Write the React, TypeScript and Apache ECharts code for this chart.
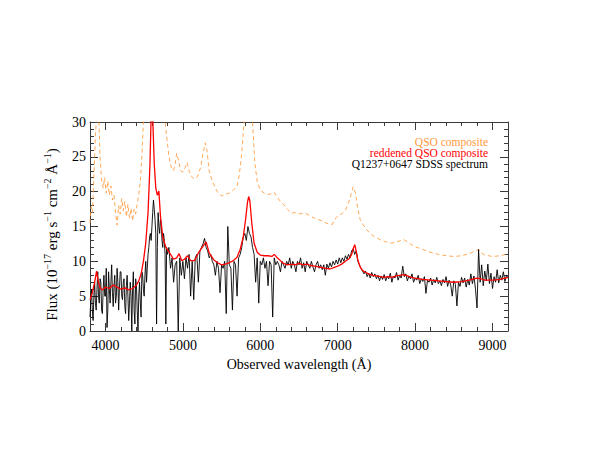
import React, { useEffect, useRef } from "react";
import * as echarts from "echarts";

// ---- data ----
const xMajorTicks = [4000, 5000, 6000, 7000, 8000, 9000];
const yTicks = [0, 5, 10, 15, 20, 25, 30];

// Q1237+0647 SDSS spectrum, blue part: every 10 Å from 3800 Å
const spectrumBlueStart = 3800;
const spectrumBlueStep = 10;
const spectrumBlueFlux = [
  2, 4.5, 6, 3, 1.5, 5, 7, 4, 3, 6,
  8.5, 5, 4, 7.5, 7, 3, 2.5, 6, 8, 5,
  5, 9, 0.5, 3, 8.5, 6, 4, 7, 9.5, 5.5,
  3.5, 6.5, 8, 4, 5, 9, 7, 3, 6, 8.5,
  8.5, 5, 4.5, 7, 7.5, 3.5, 2.5, 6.5, 8, 5,
  1.5, 4, 7, 5, 0, 6, 8.5, 3, 1, 7.5,
  6.5, 3, 0, 5, 7, 4, 2, 8.5, 8, 6,
  5, 8, 10, 7, 9, 11, 12, 13.5, 14, 13,
  15, 17, 18.8, 17.5, 16, 14, 1, 12, 17, 15,
  14, 16, 15.5, 13, 12, 14, 13, 11, 1, 12,
];

// Q1237+0647 SDSS spectrum, red part: every 20 Å from 4800 Å
const spectrumRedStart = 4800;
const spectrumRedStep = 20;
const spectrumRedFlux = [
  11, 12, 9, 10.5, 7,
  9.5, 10, 0, 10.5, 8,
  10, 7.5, 10.5, 9, 11,
  5, 10, 4.5, 10.5, 11,
  7, 11.5, 12, 12.5, 13.3,
  12, 11.5, 10.5, 11, 10,
  9.5, 8, 10, 9, 5.5,
  9.5, 9, 10, 2.5, 15,
  9.5, 9, 3, 10, 9.5,
  5, 10.5, 11, 12, 13.5,
  14, 13, 15, 14, 13.5,
  12, 11, 7, 10.5, 4,
  10, 9.5, 10.5, 9, 10,
  6.5, 10, 9.5, 2, 10.5,
  9.5, 10, 9.5, 8.5, 10,
  9.5, 9, 10, 9.5, 10.5,
  9, 10, 9.5, 8.5, 10,
  9.5, 10.5, 9, 9.8, 8.5,
  10, 9.5, 9, 10, 9.2,
  8.5, 9.5, 10, 9, 9.5,
  8.8, 9.5, 8, 9.6, 9,
  9.8, 9.2, 10, 9.5, 10.2,
  9.6, 10.5, 9.8, 10.5, 10,
  10.8, 10.3, 11, 10.5, 11.5,
  11.8, 11, 11.5, 10, 9.5,
  9, 8.6, 8.2, 8.6, 7.8,
  8.3, 7.6, 8.4, 7.8, 8.2,
  7.5, 8, 7.2, 7.9, 7.4,
  8.1, 7.2, 7.8, 7.5, 8.3,
  7, 7.9, 7.6, 8.4, 7.3,
  8, 7.6, 9.3, 7.8, 8.2,
  7.2, 7.9, 7.5, 8.2, 7,
  7.6, 7.3, 8, 6.8, 7.5,
  7.1, 7.8, 5.4, 7.3, 7,
  7.6, 6.6, 7.4, 6.9, 7.7,
  6.8, 7.2, 6.5, 7.4, 6.9,
  7.8, 6.4, 7.3, 6.6, 5,
  7.2, 6.7, 3.6, 7, 6.4,
  7.7, 6.9, 7.6, 6.3, 7.4,
  6.6, 8.2, 6.8, 7.9, 6,
  3.3, 11.7, 7, 9.5, 6.5,
  8.6, 7.2, 9.6, 6.8, 8.3,
  6.1, 7.8, 7, 8.8, 6.9,
  8, 7.3, 8.5, 7.1, 8,
  7.6,
];

// reddened QSO composite [wavelength Å, flux]
const reddenedComposite = [
  [3800, 4.5], [3830, 5.5], [3860, 7], [3885, 8.6], [3905, 7.2], [3930, 6.2],
  [3960, 5.9], [4000, 6.3], [4050, 6.1], [4100, 6.6], [4150, 6.3], [4200, 6.0],
  [4250, 6.2], [4300, 5.9], [4350, 6.1], [4400, 6.6], [4430, 7.2], [4460, 8.2],
  [4490, 10], [4520, 12.6], [4550, 17], [4575, 24], [4590, 31], [4600, 36],
  [4612, 30], [4630, 24], [4650, 20.5], [4670, 19.5], [4690, 20.1], [4710, 16.5],
  [4740, 13.5], [4780, 12], [4830, 11.2], [4880, 10.3], [4920, 10.5], [4950, 11.1],
  [4985, 10.1], [5020, 10.3], [5060, 10.8], [5100, 10.1], [5150, 10.1], [5200, 11.2],
  [5250, 12.0], [5300, 12.8], [5340, 11.2], [5400, 10.2], [5450, 9.8], [5500, 9.5],
  [5550, 9.6], [5600, 9.8], [5650, 10.1], [5700, 10.6], [5740, 11.7], [5780, 13.5],
  [5810, 16], [5835, 18.5], [5850, 19.3], [5865, 18.7], [5890, 15.5], [5920, 12.6],
  [5960, 11.3], [6000, 10.9], [6050, 10.8], [6100, 10.8], [6150, 10.7], [6180, 11],
  [6220, 10.5], [6260, 10.1], [6300, 9.7], [6350, 9.5], [6400, 9.6], [6450, 9.5],
  [6500, 9.7], [6550, 9.5], [6600, 9.6], [6650, 9.4], [6700, 9.3], [6750, 9.2],
  [6800, 9.1], [6850, 9.0], [6900, 8.9], [6950, 9.1], [7000, 9.3], [7050, 9.6],
  [7100, 10], [7150, 10.4], [7180, 11], [7200, 11.8], [7220, 12.4], [7240, 11.4],
  [7260, 10.2], [7290, 9.2], [7320, 8.7], [7360, 8.4], [7400, 8.2], [7450, 8.0],
  [7500, 7.9], [7550, 7.8], [7600, 7.7], [7650, 7.8], [7700, 7.7], [7750, 7.9],
  [7800, 8.0], [7850, 8.1], [7900, 7.9], [7950, 7.7], [8000, 7.6], [8100, 7.4],
  [8200, 7.3], [8300, 7.2], [8400, 7.1], [8500, 7.0], [8600, 7.1], [8700, 7.3],
  [8800, 7.6], [8850, 7.5], [8900, 7.3], [9000, 7.3], [9100, 7.4], [9200, 7.7],
];

// QSO composite [wavelength Å, flux]
const qsoComposite = [
  [3800, 15.5], [3815, 17.8], [3830, 17], [3850, 22], [3870, 28], [3885, 31],
  [3900, 33], [3915, 30], [3930, 25], [3950, 21.7], [3970, 20.5], [3990, 22],
  [4010, 19.8], [4030, 21.5], [4050, 19.5], [4070, 20.8], [4090, 18.8], [4110, 19.5],
  [4130, 17], [4150, 15.2], [4170, 18], [4190, 16.8], [4210, 19], [4230, 17.3],
  [4250, 18.6], [4270, 16.4], [4290, 18.2], [4310, 16.2], [4330, 17.6], [4350, 15.8],
  [4370, 17.5], [4390, 16.8], [4410, 18.3], [4430, 19.6], [4450, 21.5], [4470, 25],
  [4490, 30], [4520, 40], [4560, 60], [4600, 90], [4640, 60], [4680, 50],
  [4720, 38], [4760, 31], [4790, 28], [4820, 25], [4850, 23.5], [4880, 23],
  [4900, 24], [4920, 25.5], [4945, 24.5], [4970, 23], [5000, 22.8], [5030, 23.5],
  [5055, 24.2], [5080, 23], [5110, 22.2], [5150, 21.8], [5190, 22.2], [5230, 23.5],
  [5260, 25.5], [5290, 27], [5310, 26], [5340, 23], [5380, 21.5], [5420, 20.5],
  [5460, 19.7], [5500, 19.4], [5550, 19.6], [5600, 19.8], [5650, 20.2], [5700, 20.8],
  [5730, 22.5], [5760, 25.5], [5790, 30], [5820, 40], [5850, 55], [5880, 38],
  [5900, 30], [5930, 24], [5960, 21.5], [6000, 20.2], [6050, 19.8], [6100, 19.6],
  [6150, 19.7], [6180, 19.9], [6220, 19.2], [6260, 18.6], [6300, 18.2], [6350, 17.5],
  [6400, 16.9], [6450, 17], [6500, 16.8], [6550, 16.9], [6600, 16.8], [6650, 16.5],
  [6700, 16.2], [6750, 16], [6800, 15.8], [6850, 15.5], [6900, 15.3], [6930, 15.3],
  [6960, 16], [7000, 16.5], [7050, 16.8], [7100, 17.3], [7140, 18.4], [7170, 19.5],
  [7200, 20.7], [7230, 19.8], [7260, 17.5], [7290, 16], [7320, 15.4], [7370, 14.6],
  [7420, 14], [7480, 13.5], [7550, 13.1], [7620, 12.8], [7700, 12.6], [7760, 12.8],
  [7820, 13], [7860, 13.1], [7900, 12.8], [7950, 12.4], [8000, 12.1], [8100, 11.7],
  [8200, 11.3], [8300, 11], [8400, 10.8], [8500, 10.7], [8600, 10.8], [8700, 11.1],
  [8780, 11.5], [8820, 11.7], [8860, 11.2], [8900, 10.9], [9000, 10.7], [9100, 10.8],
  [9200, 11.1],
];

const legendLabels = ["QSO composite", "reddened QSO composite", "Q1237+0647 SDSS spectrum"];
const legendColors = ["#ff9a3c", "#ff0000", "#000000"];

const FONT = "'Liberation Serif', 'DejaVu Serif', serif";
const AXIS_COLOR = "#3a3a3a";

export default function App() {
  const ref = useRef<HTMLDivElement>(null);

  useEffect(() => {
    if (!ref.current) return;
    const chart = echarts.init(ref.current, undefined, { renderer: "svg" });

    const spectrum = [
      ...spectrumBlueFlux.map((v, i) => [spectrumBlueStart + i * spectrumBlueStep, v]),
      ...spectrumRedFlux.map((v, i) => [spectrumRedStart + i * spectrumRedStep, v]),
    ];

    const xCommon = {
      type: "value" as const,
      min: 3800,
      max: 9200,
      splitLine: { show: false },
    };
    const yCommon = {
      type: "value" as const,
      min: 0,
      max: 30,
      interval: 5,
      splitLine: { show: false },
      minorSplitLine: { show: false },
    };

    const option: any = {
      animation: false,
      backgroundColor: "#ffffff",
      grid: { left: 90, right: 90, top: 122, bottom: 124, containLabel: false },
      xAxis: [
        {
          ...xCommon,
          position: "bottom",
          axisLine: { show: true, lineStyle: { color: AXIS_COLOR, width: 1 } },
          axisTick: { show: true, inside: true, length: 8, customValues: xMajorTicks, lineStyle: { color: AXIS_COLOR } },
          axisLabel: {
            show: true,
            customValues: xMajorTicks,
            formatter: (v: number) => String(v),
            color: "#000",
            fontFamily: FONT,
            fontSize: 14,
            margin: 7,
          },
          name: "Observed wavelength (Å)",
          nameLocation: "middle",
          nameGap: 26,
          nameTextStyle: { color: "#000", fontFamily: FONT, fontSize: 14 },
        },
        {
          ...xCommon,
          position: "bottom",
          interval: 200,
          axisLine: { show: false },
          axisTick: { show: true, inside: true, length: 4, lineStyle: { color: AXIS_COLOR } },
          axisLabel: { show: false },
        },
        {
          ...xCommon,
          position: "top",
          axisLine: { show: true, lineStyle: { color: AXIS_COLOR, width: 1 } },
          axisTick: { show: true, inside: true, length: 8, customValues: xMajorTicks, lineStyle: { color: AXIS_COLOR } },
          axisLabel: { show: false },
        },
        {
          ...xCommon,
          position: "top",
          interval: 200,
          axisLine: { show: false },
          axisTick: { show: true, inside: true, length: 4, lineStyle: { color: AXIS_COLOR } },
          axisLabel: { show: false },
        },
      ],
      yAxis: [
        {
          ...yCommon,
          position: "left",
          axisLine: { show: true, lineStyle: { color: AXIS_COLOR, width: 1 } },
          axisTick: { show: true, inside: true, length: 8, lineStyle: { color: AXIS_COLOR } },
          minorTick: { show: true, splitNumber: 5, length: 4, lineStyle: { color: AXIS_COLOR } },
          axisLabel: {
            show: true,
            color: "#000",
            fontFamily: FONT,
            fontSize: 14,
            margin: 4,
            formatter: (v: number) => (yTicks.includes(v) ? String(v) : ""),
          },
          name: "Flux (10{sup|−17} erg s{sup|−1} cm{sup|−2} Å{sup|−1})",
          nameLocation: "middle",
          nameGap: 29,
          nameTextStyle: {
            color: "#000",
            fontFamily: FONT,
            fontSize: 15,
            lineHeight: 19,
            padding: [0, 16, 0, 0],
            rich: {
              sup: { fontFamily: FONT, fontSize: 10, color: "#000", verticalAlign: "top", lineHeight: 12 },
            },
          },
        },
        {
          ...yCommon,
          position: "right",
          axisLine: { show: true, lineStyle: { color: AXIS_COLOR, width: 1 } },
          axisTick: { show: true, inside: true, length: 8, lineStyle: { color: AXIS_COLOR } },
          minorTick: { show: true, splitNumber: 5, length: 4, lineStyle: { color: AXIS_COLOR } },
          axisLabel: { show: false },
        },
      ],
      series: [
        {
          name: legendLabels[2],
          type: "line",
          xAxisIndex: 0,
          yAxisIndex: 0,
          data: spectrum,
          showSymbol: false,
          symbol: "none",
          clip: true,
          lineStyle: { color: legendColors[2], width: 0.9 },
          z: 2,
        },
        {
          name: legendLabels[1],
          type: "line",
          xAxisIndex: 0,
          yAxisIndex: 0,
          data: reddenedComposite,
          showSymbol: false,
          symbol: "none",
          clip: true,
          lineStyle: { color: legendColors[1], width: 1.3 },
          z: 3,
        },
        {
          name: legendLabels[0],
          type: "line",
          xAxisIndex: 0,
          yAxisIndex: 0,
          data: qsoComposite,
          showSymbol: false,
          symbol: "none",
          clip: true,
          lineStyle: { color: legendColors[0], width: 1, type: [4, 3], opacity: 0.85 },
          z: 1,
        },
      ],
      graphic: legendLabels.map((label, i) => ({
        type: "text",
        x: 488,
        y: 142 + i * 11,
        style: {
          text: label,
          fill: legendColors[i],
          font: `11.5px ${FONT}`,
          textAlign: "right",
          textVerticalAlign: "middle",
        },
      })),
    };

    chart.setOption(option);
    return () => chart.dispose();
  }, []);

  return (
    <div
      ref={ref}
      style={{ position: "fixed", left: 0, top: 0, width: 598, height: 455, background: "#fff" }}
    />
  );
}
